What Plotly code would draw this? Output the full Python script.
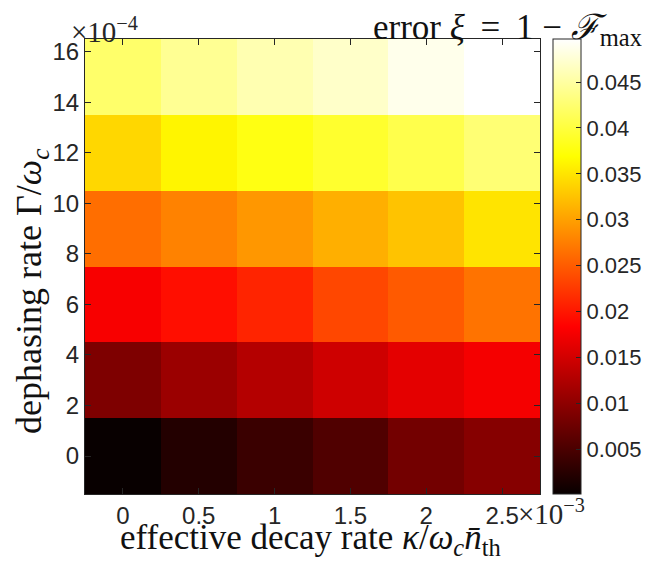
import plotly.graph_objects as go

# x: effective decay rate (x 1e-3), y: dephasing rate (x 1e-4)
kappa = [0, 0.5, 1.0, 1.5, 2.0, 2.5]
gamma = [0, 3, 6, 9, 12, 15]

# error values, one list per dephasing row (bottom to top)
err_g0 = [0.0001, 0.0021, 0.0038, 0.0054, 0.0080, 0.0094]
err_g3 = [0.0088, 0.0109, 0.0128, 0.0147, 0.0163, 0.0176]
err_g6 = [0.0178, 0.0193, 0.0209, 0.0235, 0.0249, 0.0267]
err_g9 = [0.0263, 0.0278, 0.0293, 0.0311, 0.0325, 0.0349]
err_g12 = [0.0340, 0.0362, 0.0378, 0.0392, 0.0407, 0.0427]
err_g15 = [0.0422, 0.0443, 0.0458, 0.0470, 0.0487, 0.0497]

x_ticks = [0, 0.5, 1, 1.5, 2, 2.5]
x_ticklabels = ["0", "0.5", "1", "1.5", "2", "2.5"]
y_ticks = [0, 2, 4, 6, 8, 10, 12, 14, 16]
cb_ticks = [0.005, 0.01, 0.015, 0.02, 0.025, 0.03, 0.035, 0.04, 0.045]
cb_ticklabels = ["0.005", "0.01", "0.015", "0.02", "0.025", "0.03", "0.035", "0.04", "0.045"]

z = [err_g0, err_g3, err_g6, err_g9, err_g12, err_g15]

hot = [
    [0.0, "rgb(8,0,0)"],
    [0.367, "rgb(255,0,0)"],
    [0.742, "rgb(255,255,0)"],
    [1.0, "rgb(255,255,255)"],
]

# page has an 8px body margin: figure is sized so the page fits the window
OFF = 8
W, H = 650 - 2 * OFF, 565 - 2 * OFF
# plot box in page pixels: x 85..540, y 39..494
L = 85 - OFF
T = 39 - OFF
R = W - (540 - OFF)
B = H - (494 - OFF)
PW, PH = W - L - R, H - T - B

tick_font = dict(family="Liberation Sans, Arial, sans-serif", size=24, color="#262626")
cb_font = dict(family="Liberation Sans, Arial, sans-serif", size=22, color="#262626")
serif = "Liberation Serif, Times New Roman, serif"
axcol = "#262626"


def px(page_x):
    return (page_x - OFF - L) / PW


def py(page_y):
    return (H - B - (page_y - OFF)) / PH


fig = go.Figure(
    go.Heatmap(
        x=kappa,
        y=gamma,
        z=z,
        colorscale=hot,
        showscale=True,
        colorbar=dict(
            thickness=28,
            thicknessmode="pixels",
            len=1,
            lenmode="fraction",
            x=px(553),
            xanchor="left",
            y=0,
            yanchor="bottom",
            xpad=0,
            ypad=0,
            outlinewidth=1,
            outlinecolor=axcol,
            ticks="inside",
            ticklen=5,
            tickcolor=axcol,
            tickvals=cb_ticks,
            ticktext=cb_ticklabels,
            tickfont=cb_font,
        ),
    )
)

fig.update_xaxes(
    range=[-0.25, 2.75],
    tickvals=x_ticks,
    ticktext=x_ticklabels,
    ticks="inside",
    ticklen=6,
    tickcolor=axcol,
    showline=True,
    linecolor=axcol,
    linewidth=1,
    mirror="ticks",
    showgrid=False,
    zeroline=False,
    tickfont=tick_font,
    automargin=False,
)
fig.update_yaxes(
    range=[-1.5, 16.5],
    tickvals=y_ticks,
    ticks="inside",
    ticklen=6,
    tickcolor=axcol,
    showline=True,
    linecolor=axcol,
    linewidth=1,
    mirror="ticks",
    showgrid=False,
    zeroline=False,
    tickfont=tick_font,
    automargin=False,
)

fig.update_layout(
    width=W,
    height=H,
    margin=dict(l=L, r=R, t=T, b=B, autoexpand=False),
    paper_bgcolor="white",
    plot_bgcolor="white",
    annotations=[
        dict(
            text="effective decay rate <i>κ</i>/<i>ω</i><sub><i>c</i></sub><i>n̄</i><sub>th</sub>",
            xref="paper", yref="paper",
            x=px(310), y=py(539),
            xanchor="center", yanchor="middle",
            showarrow=False,
            font=dict(family=serif, size=35, color="#111111"),
        ),
        dict(
            text="dephasing rate Γ/<i>ω</i><sub><i>c</i></sub>",
            xref="paper", yref="paper",
            x=px(31), y=py(292),
            xanchor="center", yanchor="middle",
            textangle=-90,
            showarrow=False,
            font=dict(family=serif, size=36, color="#111111"),
        ),
        dict(
            text="×10<sup>−4</sup>",
            xref="paper", yref="paper",
            x=px(69), y=py(50),
            xanchor="left", yanchor="bottom",
            showarrow=False,
            font=dict(family=serif, size=29, color="#262626"),
        ),
        dict(
            text="×10<sup>−3</sup>",
            xref="paper", yref="paper",
            x=px(516), y=py(532),
            xanchor="left", yanchor="bottom",
            showarrow=False,
            font=dict(family=serif, size=29, color="#262626"),
        ),
        dict(
            text="error <i>ξ</i>\u2009 = \u20091 − <i>ℱ</i><sub>max</sub>",
            xref="paper", yref="paper",
            x=px(644), y=py(6),
            xanchor="right", yanchor="top",
            showarrow=False,
            font=dict(family=serif, size=35, color="#111111"),
        ),
    ],
)

fig.write_html("out.html")
